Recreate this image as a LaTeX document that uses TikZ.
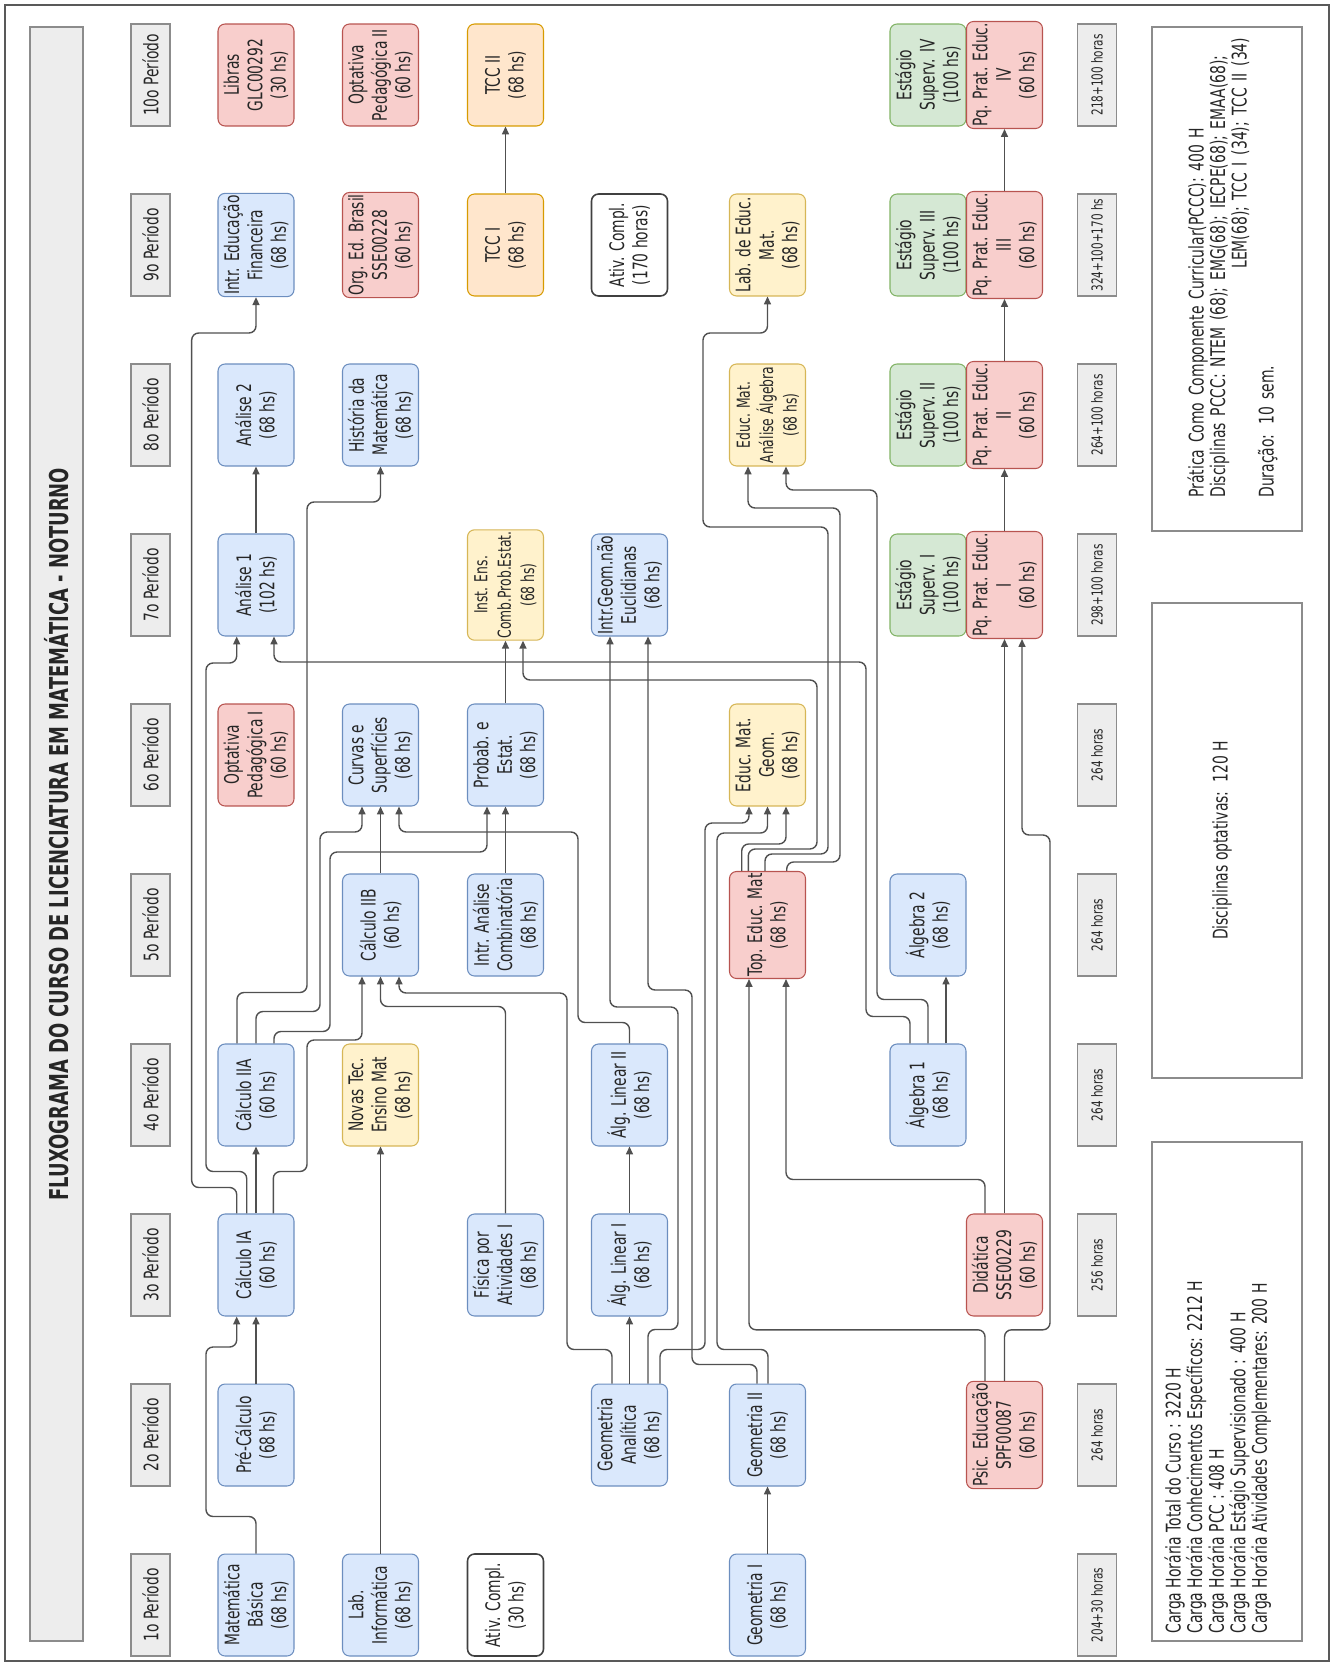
\documentclass[tikz,border=0pt]{standalone}
\usepackage{fontspec}
\setmainfont{DejaVu Sans}[FakeStretch=0.69]
\usetikzlibrary{arrows.meta,calc}
\definecolor{fmink}{HTML}{262626}
\definecolor{fmline}{HTML}{505050}
\definecolor{fmgrey}{HTML}{8C8C8C}
\definecolor{fmpale}{HTML}{EDEDED}
\definecolor{fmblue}{HTML}{DAE8FC}
\definecolor{fmbluedk}{HTML}{6C8EBF}
\definecolor{fmred}{HTML}{F8CECC}
\definecolor{fmreddk}{HTML}{B85450}
\definecolor{fmyellow}{HTML}{FFF2CC}
\definecolor{fmyellowdk}{HTML}{D6B656}
\definecolor{fmorange}{HTML}{FFE6CC}
\definecolor{fmorangedk}{HTML}{D79B00}
\definecolor{fmgreen}{HTML}{D5E8D4}
\definecolor{fmgreendk}{HTML}{82B366}
\newcommand{\fmnodefont}{\fontsize{11.4}{13.3}\selectfont}
\newcommand{\fmtightfont}{\fontsize{10.2}{13.3}\selectfont}
\newcommand{\fmhoursfont}{\fontsize{8.6}{10}\selectfont}
\newcommand{\fmnotefont}{\fontsize{11.5}{12.3}\selectfont}
\newcommand{\fmtitlefont}{\fontsize{14.8}{16}\selectfont\bfseries}
\tikzset{
  fm box/.style={rotate=90, rounded corners=4pt, line width=0.6pt,
    minimum width=2.04cm, minimum height=1.52cm, inner sep=1pt,
    align=center, font=\fmnodefont, text=fmink},
  fm blue/.style={fm box, fill=fmblue, draw=fmbluedk},
  fm red/.style={fm box, fill=fmred, draw=fmreddk},
  fm yellow/.style={fm box, fill=fmyellow, draw=fmyellowdk},
  fm orange/.style={fm box, fill=fmorange, draw=fmorangedk},
  fm green/.style={fm box, fill=fmgreen, draw=fmgreendk},
  fm white/.style={fm box, fill=white, draw=black!75, line width=0.9pt},
  fm tag/.style={rotate=90, draw=fmgrey, line width=1.1pt, fill=fmpale,
    minimum width=2.04cm, minimum height=0.78cm, inner sep=0pt,
    font=\fmnodefont, text=fmink},
  fm panel/.style={rotate=90, draw=fmgrey, line width=1.1pt, fill=white, inner sep=0pt},
  fm note/.style={rotate=90, inner sep=0pt, align=left, font=\fmnotefont, text=fmink},
  fm link/.style={-{Triangle[length=4.5pt,width=4pt]}, line width=0.8pt,
    draw=fmline, rounded corners=4pt}
}
\begin{document}
\begin{tikzpicture}[x={(0.02cm,0)}, y={(0,-0.02cm)}]
  \useasboundingbox (0,0) rectangle (1335,1666);
  \draw[draw=black!65, line width=1.5pt] (5,5) rectangle (1329,1661);

  % title band, periods and hours
  \node[fm tag, minimum width=32.28cm, minimum height=1.06cm, font=\fmtitlefont]
    (title) at (56.5,834) {FLUXOGRAMA DO CURSO DE LICENCIATURA EM MATEMÁTICA - NOTURNO};
  \foreach \k/\py in {1/1605,2/1435,3/1265,4/1095,5/925,6/755,7/585,8/415,9/245,10/75}
    \node[fm tag] (per\k) at (150.5,\py) {\k o Período};
  \foreach \k/\py/\hrs in {1/1605/204+30 horas,2/1435/264 horas,3/1265/256 horas,
      4/1095/264 horas,5/925/264 horas,6/755/264 horas,7/585/298+100 horas,
      8/415/264+100 horas,9/245/324+100+170 hs,10/75/218+100 horas}
    \node[fm tag, font=\fmhoursfont] (hrs\k) at (1097,\py) {\hrs};

  % 1o periodo
  \node[fm blue] (matbas) at (256,1605) {Matemática\\Básica\\(68 hs)};
  \node[fm blue] (labinf) at (380.5,1605) {Lab.\\Informática\\(68 hs)};
  \node[fm white] (ativa) at (505.5,1605) {Ativ. Compl.\\(30 hs)};
  \node[fm blue] (geoi) at (767.5,1605) {Geometria I\\(68 hs)};
  % 2o periodo
  \node[fm blue] (precalc) at (256,1435) {Pré-Cálculo\\(68 hs)};
  \node[fm blue] (geoan) at (629.5,1435) {Geometria\\Analítica\\(68 hs)};
  \node[fm blue] (geoii) at (767.5,1435) {Geometria II\\(68 hs)};
  \node[fm red] (psic) at (1004.5,1435) {Psic. Educação\\SPF00087\\(60 hs)};
  % 3o periodo
  \node[fm blue] (calcia) at (256,1265) {Cálculo IA\\(60 hs)};
  \node[fm blue] (fisica) at (505.5,1265) {Física por\\Atividades I\\(68 hs)};
  \node[fm blue] (algli) at (629.5,1265) {Álg. Linear I\\(68 hs)};
  \node[fm red] (didat) at (1004.5,1265) {Didática\\SSE00229\\(60 hs)};
  % 4o periodo
  \node[fm blue] (calciia) at (256,1095) {Cálculo IIA\\(60 hs)};
  \node[fm yellow] (novas) at (380.5,1095) {Novas Tec.\\Ensino Mat\\(68 hs)};
  \node[fm blue] (alglii) at (629.5,1095) {Álg. Linear II\\(68 hs)};
  \node[fm blue] (alga) at (928,1095) {Álgebra 1\\(68 hs)};
  % 5o periodo
  \node[fm blue] (calciib) at (380.5,925) {Cálculo IIB\\(60 hs)};
  \node[fm blue] (combin) at (505.5,925) {Intr. Análise\\Combinatória\\(68 hs)};
  \node[fm red] (topedu) at (767.5,925) {Top. Educ. Mat\\(68 hs)};
  \node[fm blue] (algb) at (928,925) {Álgebra 2\\(68 hs)};
  % 6o periodo
  \node[fm red] (opti) at (256,755) {Optativa\\Pedagógica I\\(60 hs)};
  \node[fm blue] (curvas) at (380.5,755) {Curvas e\\Superfícies\\(68 hs)};
  \node[fm blue] (probest) at (505.5,755) {Probab. e\\Estat.\\(68 hs)};
  \node[fm yellow] (edugeom) at (767.5,755) {Educ. Mat.\\Geom.\\(68 hs)};
  % 7o periodo
  \node[fm blue] (anai) at (256,585) {Análise 1\\(102 hs)};
  \node[fm yellow, font=\fmtightfont] (instens) at (505.5,585) {Inst. Ens.\\Comb.Prob.Estat.\\(68 hs)};
  \node[fm blue] (naoeucl) at (629.5,585) {Intr.Geom.não\\Euclidianas\\(68 hs)};
  \node[fm green] (esti) at (928,585) {Estágio\\Superv. I\\(100 hs)};
  \node[fm red] (pqi) at (1004.5,585) {Pq. Prat. Educ.\\I\\(60 hs)};
  % 8o periodo
  \node[fm blue] (anaii) at (256,415) {Análise 2\\(68 hs)};
  \node[fm blue] (hist) at (380.5,415) {História da\\Matemática\\(68 hs)};
  \node[fm yellow, font=\fmtightfont] (eduanalg) at (767.5,415) {Educ. Mat.\\Análise Álgebra\\(68 hs)};
  \node[fm green] (estii) at (928,415) {Estágio\\Superv. II\\(100 hs)};
  \node[fm red] (pqii) at (1004.5,415) {Pq. Prat. Educ.\\II\\(60 hs)};
  % 9o periodo
  \node[fm blue] (edufin) at (256,245) {Intr. Educação\\Financeira\\(68 hs)};
  \node[fm red] (orged) at (380.5,245) {Org. Ed. Brasil\\SSE00228\\(60 hs)};
  \node[fm orange] (tcci) at (505.5,245) {TCC I\\(68 hs)};
  \node[fm white] (ativb) at (629.5,245) {Ativ. Compl.\\(170 horas)};
  \node[fm yellow] (labedu) at (767.5,245) {Lab. de Educ.\\Mat.\\(68 hs)};
  \node[fm green] (estiii) at (928,245) {Estágio\\Superv. III\\(100 hs)};
  \node[fm red] (pqiii) at (1004.5,245) {Pq. Prat. Educ.\\III\\(60 hs)};
  % 10o periodo
  \node[fm red] (libras) at (256,75) {Libras\\GLC00292\\(30 hs)};
  \node[fm red] (optii) at (380.5,75) {Optativa\\Pedagógica II\\(60 hs)};
  \node[fm orange] (tccii) at (505.5,75) {TCC II\\(68 hs)};
  \node[fm green] (estiv) at (928,75) {Estágio\\Superv. IV\\(100 hs)};
  \node[fm red] (pqiv) at (1004.5,75) {Pq. Prat. Educ.\\IV\\(60 hs)};

  % summary panels
  \node[fm panel, minimum width=9.98cm, minimum height=3cm] (cargas) at (1227,1391.5) {};
  \node[fm note, anchor=north west] (cargastxt) at (1164,1634) {Carga Horária Total do Curso : 3220 H\\
    Carga Horária Conhecimentos Específicos: 2212 H\\
    Carga Horária PCC : 408 H\\
    Carga Horária Estágio Supervisionado : 400 H\\
    Carga Horária Atividades Complementares: 200 H};
  \node[fm panel, minimum width=9.5cm, minimum height=3cm] (optat) at (1227,840.5) {};
  \node[fm note] (optattxt) at (1222,840.5) {Disciplinas optativas:\ \ 120 H};
  \node[fm panel, minimum width=10.08cm, minimum height=3cm] (pccc) at (1227,279) {};
  \node[fm note, anchor=north west, text width=9.2cm] (pccctxt) at (1187,498) {Prática Como Componente Curricular(PCCC): 400 H\\
    Disciplinas PCCC: NTEM (68); EMG(68); IECPE(68); EMAA(68);\\
    \hfill LEM(68); TCC I (34); TCC II (34)\\[3pt]
    Duração: 10 sem.};

  % prerequisites
  \draw[fm link] (matbas.east) -- ++(0,-37) -| (206,1347) -| ($(calcia.west)+(-19.3,0)$);
  \draw[fm link] (precalc.east) -- (calcia.west);
  \draw[fm link] (labinf.east) -- (novas.west);
  \draw[fm link] (geoi.east) -- (geoii.west);
  \draw[fm link] ($(calcia.east)+(-19.3,0)$) -- ++(0,-26) -| (191.7,333) -| (edufin.west);
  \draw[fm link] ($(calcia.east)+(-9.3,0)$) -- ++(0,-42) -| (206,663) -| ($(anai.west)+(-19.3,0)$);
  \draw[fm link] (calcia.east) -- (calciia.west);
  \draw[fm link] ($(calcia.east)+(17.3,0)$) -- ++(0,-42) -| (307,1040) -| ($(calciib.west)+(-18.5,0)$);
  \draw[fm link] ($(calciia.east)+(-19,0)$) -- ++(0,-51) -| (307,502) -| (hist.west);
  \draw[fm link] (calciia.east) -- ++(0,-32) -| (320,832) -| ($(curvas.west)+(-18.5,0)$);
  \draw[fm link] ($(calciia.east)+(18,0)$) -- ++(0,-12) -| (330,852) -| ($(probest.west)+(-18.5,0)$);
  \draw[fm link] (fisica.east) -- ++(0,-207) -| (calciib.west);
  \draw[fm link] ($(geoan.east)+(-17.5,0)$) -- ++(0,-34) -| (567,993) -| ($(calciib.west)+(18.5,0)$);
  \draw[fm link] (geoan.east) -- (algli.west);
  \draw[fm link] (algli.east) -- (alglii.west);
  \draw[fm link] ($(geoan.east)+(18.5,0)$) -- ++(0,-54) -| (678,1007) -| ($(naoeucl.west)+(-19.5,0)$);
  \draw[fm link] ($(geoan.east)+(30.5,0)$) -- ++(0,-34) -| (705,823) -| ($(edugeom.west)+(-18.5,0)$);
  \draw[fm link] ($(geoii.east)+(-10.5,0)$) -- ++(0,-19) -| (692,990) -| ($(naoeucl.west)+(18.5,0)$);
  \draw[fm link] ($(geoii.east)+(0.5,0)$) -- ++(0,-34) -| (717,833) -| (edugeom.west);
  \draw[fm link] (alglii.east) -- ++(0,-21) -| (578,832) -| ($(curvas.west)+(18.5,0)$);
  \draw[fm link] (combin.east) -- (probest.west);
  \draw[fm link] (probest.east) -- (instens.west);
  \draw[fm link] (calciib.east) -- (curvas.west);
  \draw[fm link] ($(topedu.east)+(-25.8,0)$) -- ++(0,-27) -| ($(edugeom.west)+(18.5,0)$);
  \draw[fm link] ($(topedu.east)+(-19.2,0)$) -- ++(0,-22) -| (817,680) -| ($(instens.west)+(17.5,0)$);
  \draw[fm link] ($(topedu.east)+(-2.5,0)$) -- ++(0,-17) -| (828,527) -| (703,333) -| (labedu.west);
  \draw[fm link] ($(topedu.east)+(19.2,0)$) -- ++(0,-9) -| (840,508) -| ($(eduanalg.west)+(-19.5,0)$);
  \draw[fm link] ($(psic.east)+(-19.5,0)$) -- ++(0,-51) -| ($(topedu.west)+(-18.5,0)$);
  \draw[fm link] ($(didat.east)+(-19.5,0)$) -- ++(0,-34) -| ($(topedu.west)+(18.5,0)$);
  \draw[fm link] (psic.east) -- ++(0,-51) -| (1050,835) -| ($(pqi.west)+(17.5,0)$);
  \draw[fm link] (didat.east) -- (pqi.west);
  \draw[fm link] (pqi.east) -- (pqii.west);
  \draw[fm link] (pqii.east) -- (pqiii.west);
  \draw[fm link] (pqiii.east) -- (pqiv.west);
  \draw[fm link] (tcci.east) -- (tccii.west);
  \draw[fm link] ($(alga.east)+(-18,0)$) -- ++(0,-27) -| (866,662) -| ($(anai.west)+(18,0)$);
  \draw[fm link] (alga.east) -- ++(0,-44) -| (877,490) -| ($(eduanalg.west)+(18.5,0)$);
  \draw[fm link] ($(alga.east)+(18,0)$) -- ($(algb.west)+(18,0)$);
  \draw[fm link] (anai.east) -- (anaii.west);
\end{tikzpicture}
\end{document}
